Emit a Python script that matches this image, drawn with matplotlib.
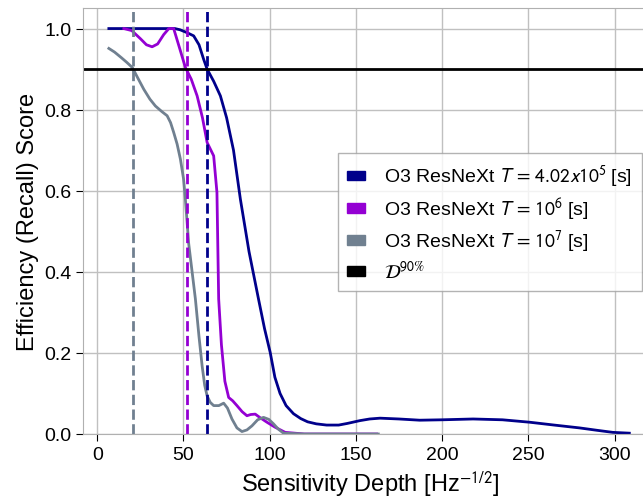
import matplotlib
matplotlib.use("Agg")
import matplotlib.pyplot as plt
from matplotlib.patches import Patch

plt.rcParams['font.family'] = ['Liberation Sans', 'DejaVu Sans']
plt.rcParams['mathtext.fontset'] = 'stixsans'

# Datos
depth_4e5 = [6.7, 20, 30, 40, 45, 48, 52, 55.9, 59, 61.7, 63.7, 67.5, 71.4, 75, 79, 83,
             88, 93.5, 97, 100.3, 103, 106, 109.5, 113.8, 118, 122, 127, 133, 140, 145,
             152.4, 158, 164, 175, 187, 200, 218, 235, 250.8, 265, 279.7, 290, 299, 308.6]
eff_4e5 = [1.0, 1.0, 1.0, 1.0, 1.0, 0.997, 0.99, 0.982, 0.96, 0.924, 0.90, 0.87, 0.834,
           0.78, 0.70, 0.579, 0.45, 0.333, 0.26, 0.201, 0.14, 0.10, 0.07, 0.05, 0.038,
           0.03, 0.025, 0.022, 0.022, 0.026, 0.033, 0.037, 0.039, 0.037, 0.034, 0.035,
           0.037, 0.035, 0.029, 0.022, 0.015, 0.009, 0.004, 0.002]

depth_1e6 = [15.4, 20, 25, 28.5, 31.8, 35, 38.5, 41.5, 44.3, 47.5, 51.1, 54.5, 57.9,
             61, 63.7, 67.5, 69.4, 70.4, 72, 74, 76.2, 78.5, 81, 84, 86.8, 89, 91.6,
             94.5, 98.4, 103, 109, 120, 140, 162]
eff_1e6 = [1.0, 0.995, 0.975, 0.96, 0.955, 0.962, 0.985, 1.0, 1.0, 0.955, 0.904, 0.875,
           0.834, 0.78, 0.719, 0.686, 0.596, 0.333, 0.22, 0.13, 0.09, 0.082, 0.07, 0.055,
           0.045, 0.048, 0.049, 0.04, 0.029, 0.017, 0.004, 0.0, 0.0, 0.0]

depth_1e7 = [6.7, 10, 14, 17, 20.3, 23.5, 27, 30.5, 33.7, 37.5, 40.5, 42.5, 44.3, 46.3,
             48.2, 50, 51.1, 53, 56.9, 59, 60.8, 62.3, 63.7, 65.5, 67.5, 70.5, 73.3,
             75.5, 78.1, 81, 83.9, 86.8, 89.7, 93, 96.4, 99.5, 102.2, 105, 108, 120,
             140, 163]
eff_1e7 = [0.951, 0.942, 0.928, 0.917, 0.904, 0.878, 0.85, 0.826, 0.809, 0.795, 0.785,
           0.768, 0.744, 0.715, 0.678, 0.63, 0.579, 0.47, 0.333, 0.24, 0.168, 0.12,
           0.094, 0.078, 0.07, 0.07, 0.076, 0.064, 0.037, 0.015, 0.006, 0.01, 0.02, 0.035,
           0.041, 0.036, 0.025, 0.012, 0.002, 0.0, 0.0, 0.0]

d90_4e5 = 63.9
d90_1e6 = 51.9
d90_1e7 = 20.7
umbral = 0.9

etiquetas = [r"O3 ResNeXt $T\,=\,4.02x10^5$ [s]",
             r"O3 ResNeXt $T\,=\,10^6$ [s]",
             r"O3 ResNeXt $T\,=\,10^7$ [s]",
             r"$\mathcal{D}^{90\%}$"]

colores = ["#00008B", "#9400D3", "#708090", "#000000"]

fig = plt.figure(figsize=(6.43, 5.02), dpi=100)
# el eje se sale un poco por la derecha, como en el original
ax = fig.add_axes([0.1296, 0.1335, 0.8907, 0.848])

ax.grid(True, color="#c0c0c0", linewidth=1.0, zorder=0)
ax.set_axisbelow(True)

ax.plot(depth_4e5, eff_4e5, color=colores[0], linewidth=2)
ax.plot(depth_1e6, eff_1e6, color=colores[1], linewidth=2)
ax.plot(depth_1e7, eff_1e7, color=colores[2], linewidth=2)

ax.axvline(d90_1e7, color=colores[2], linestyle="--", linewidth=2)
ax.axvline(d90_1e6, color=colores[1], linestyle="--", linewidth=2)
ax.axvline(d90_4e5, color=colores[0], linestyle="--", linewidth=2)
ax.axhline(umbral, color="black", linewidth=2)

ax.set_xlim(-8.1, 324.1)
ax.set_ylim(0, 1.05)
ax.set_xticks([0, 50, 100, 150, 200, 250, 300])
ax.set_yticks([0.0, 0.2, 0.4, 0.6, 0.8, 1.0])
ax.tick_params(labelsize=14, length=5, color="black")
for s in ax.spines.values():
    s.set_color("#b0b0b0")

ax.set_xlabel(r"Sensitivity Depth [Hz$^{-1/2}$]", fontsize=17)
ax.set_ylabel("Efficiency (Recall) Score", fontsize=17)

handles = [Patch(facecolor=c, edgecolor=c) for c in colores]
leg = ax.legend(handles, etiquetas, loc="center right", bbox_to_anchor=(0.9756, 0.497),
                borderaxespad=0, fontsize=14, handlelength=0.9, handleheight=0.4,
                handletextpad=1.0, labelspacing=0.3, borderpad=0.5,
                fancybox=False, edgecolor="#a0a0a0")

plt.savefig("out.png", dpi=100)
